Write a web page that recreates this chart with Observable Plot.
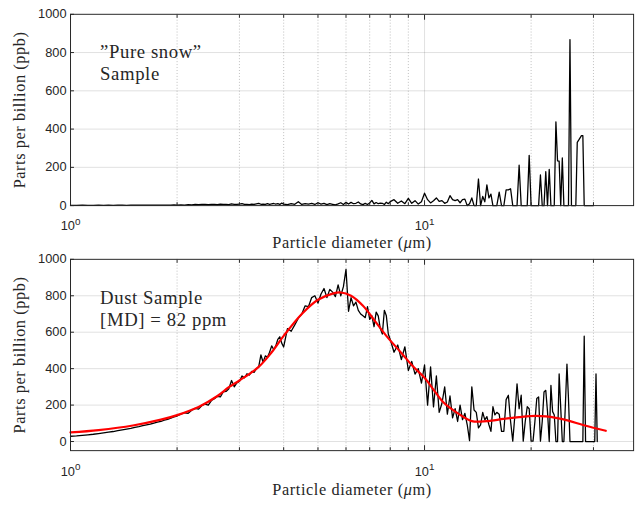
<!DOCTYPE html>
<html><head><meta charset="utf-8">
<script src="https://cdn.jsdelivr.net/npm/d3@7"></script>
<script src="https://cdn.jsdelivr.net/npm/@observablehq/plot@0.6"></script>
<style>
body{margin:0;background:#fff;overflow:hidden;}
#chart{width:641px;height:506px;overflow:hidden;position:relative;background:#fff;}
#chart svg{display:block;}
g[font-family^="Liberation Serif"] text{letter-spacing:0.6px;}
</style></head><body><div id="chart"></div>
<script>
// bin diameters (µm)
const diameters = [
1.00,1.04,1.08,1.12,1.16,1.20,1.24,1.28,1.32,1.36,1.40,1.44,1.48,1.52,1.56,1.60,1.64,1.68,1.72,1.76,1.80,1.84,1.88,1.92,1.96,
2.00,2.05,2.10,2.15,2.20,2.25,2.30,2.35,2.40,2.45,2.50,2.55,2.60,2.65,2.70,2.75,2.80,2.85,2.90,2.95,3.00,3.05,3.10,3.15,3.20,3.25,3.30,3.35,3.40,3.45,3.50,3.55,3.60,3.65,3.70,3.75,3.80,3.85,3.90,3.95,
4.0,4.1,4.2,4.3,4.4,4.5,4.6,4.7,4.8,4.9,5.0,5.1,5.2,5.3,5.4,5.5,5.6,5.7,5.8,5.9,6.0,6.1,6.2,6.3,6.4,6.5,6.6,6.7,6.8,6.9,7.0,7.1,7.2,7.3,7.4,7.5,7.6,7.7,7.8,7.9,
8.0,8.2,8.4,8.6,8.8,9.0,9.2,9.4,9.6,9.8,10.0,10.2,10.4,10.6,10.8,11.0,11.2,11.4,11.6,11.8,12.0,12.2,12.4,12.6,12.8,13.0,13.2,13.4,13.6,13.8,14.0,14.2,14.4,14.6,14.8,15.0,15.2,15.4,15.6,15.8,
16.0,16.25,16.5,16.75,17.0,17.25,17.5,17.75,18.0,18.25,18.5,18.75,19.0,19.25,19.5,19.75,20.0,20.25,20.5,20.75,21.0,21.25,21.5,21.75,22.0,22.25,22.5,22.75,23.0,23.25,23.5,23.75,24.0,24.25,24.5,24.75,25.0,25.25,25.5,25.75,26.0,26.25,26.5,26.75,27.0,27.25,27.5,27.75,28.0,28.25,28.5,28.75,29.0,29.25,29.5,29.75,30.0,30.25,30.5,30.75
];
// "Pure snow" sample (ppb)
const snowPpb = [
1,1,2,1,1,2,1,2,1,2,2,1,2,2,3,2,2,3,2,3,2,3,3,2,4,
3,4,3,5,4,6,5,7,6,5,7,6,5,8,6,7,5,9,7,6,8,10,6,7,5,8,6,9,12,7,8,6,10,7,9,11,8,10,6,13,
8,5,10,7,20,6,10,8,12,6,15,8,12,5,10,7,4,9,15,6,17,8,17,10,12,19,9,5,12,6,14,27,9,16,10,13,12,6,18,10,
21,31,12,24,10,38,12,26,8,20,65,31,14,25,40,22,26,12,19,52,31,26,31,15,31,34,0,10,40,0,0,139,0,48,20,108,40,60,0,0,
0,70,0,0,82,82,88,0,0,0,211,0,0,0,0,263,0,0,0,0,0,160,0,0,177,0,189,0,0,0,438,234,232,0,249,0,0,0,0,868,0,0,0,0,331,342,354,366,366,0,0,0,0,0,0,0,0
];
// Dust sample (ppb)
const dustPpb = [
29,31,34,37,40,44,48,52,55,60,64,68,72,78,82,87,92,95,101,106,110,117,122,128,135,
140,150,158,155,172,182,178,198,205,200,225,235,248,245,272,275,290,335,300,322,330,360,350,372,365,385,380,400,410,475,435,470,462,490,525,505,525,560,575,540,
519,620,605,640,677,700,745,740,790,800,760,810,840,790,835,820,795,860,800,850,945,715,790,745,765,720,700,690,680,740,670,690,630,710,690,620,590,720,690,590,
560,490,530,450,520,390,440,370,400,320,420,200,410,190,360,160,210,300,150,250,130,180,110,200,120,155,92,5,300,173,160,75,92,160,119,137,92,56,191,146,
160,150,56,56,230,254,110,2,146,317,180,254,2,110,191,180,2,2,110,236,245,2,110,272,281,164,0,308,164,146,0,0,371,182,0,0,209,425,236,0,0,0,0,0,0,0,0,0,0,578,0,0,0,0,0,0,0,0,371,0
];
// smooth fit (red)
const fitDiameters = [1.0,1.2,1.5,1.8,2.0,2.3,2.6,2.8,3.0,3.4,3.7,4.0,4.5,5.0,5.5,5.8,6.2,6.7,7.2,7.8,8.6,9.3,10,10.6,11.3,12.3,13.6,15,16.7,18.5,20.6,22,23.5,25.5,27.9,30,32.5];
const fitPpb = [50,63,88,120,145,190,250,298,335,410,490,580,700,778,812,818,800,745,668,580,486,410,350,285,215,160,112,112,124,134,141,138,130,115,92,76,59];

const yTicks = [0,200,400,600,800,1000];
const yTickLabels = ["0","200","400","600","800","1000"];
const xMajorTicks = [1,10];
const xMinorTicks = [2,3,4,5,6,7,8,9,20,30];
const xTickBase = "10";
const xTickExponents = ["0","1"];
const xLabel = "Particle diameter (μm)";
const yLabel = "Parts per billion (ppb)";
const snowNote = "”Pure snow”\nSample";
const dustNote = "Dust Sample\n[MD] = 82 ppm";

const SANS = "Liberation Sans, Arial, Helvetica, sans-serif";
const SERIF = "Liberation Serif, Times New Roman, serif";
const AX = "#262626";
const NS = "http://www.w3.org/2000/svg";

function panel({values, fit, yDomain, height, marginTop, marginBottom, note, noteDy, xLabelDy, xTickPad}) {
  const rows = values.map((v, i) => ({d: diameters[i], v}));
  const marks = [
    Plot.gridY(yTicks.filter(v => v > yDomain[0] && v < yDomain[1]), {stroke: AX, strokeOpacity: 0.14, strokeWidth: 1}),
    Plot.gridX(xMinorTicks, {stroke: AX, strokeOpacity: 0.3, strokeWidth: 1, strokeDasharray: "1,2"}),
    Plot.gridX([10], {stroke: AX, strokeOpacity: 0.14, strokeWidth: 1}),
    Plot.line(rows, {x: "d", y: "v", stroke: "#000", strokeWidth: 1.3}),
  ];
  if (fit) marks.push(Plot.line(fit, {x: "d", y: "v", stroke: "#ff0000", strokeWidth: 2.2, curve: "catmull-rom"}));
  marks.push(
    Plot.frame({stroke: AX, strokeWidth: 1}),
    // inward ticks
    Plot.axisY(yTicks, {anchor: "left", tickSize: -4, tickFormat: () => "", label: null, stroke: AX}),
    Plot.axisX(xMajorTicks, {anchor: "bottom", tickSize: -5, tickFormat: () => "", label: null, stroke: AX}),
    Plot.axisX(xMinorTicks, {anchor: "bottom", tickSize: -3, tickFormat: () => "", label: null, stroke: AX}),
    Plot.axisX(xMajorTicks, {anchor: "top", tickSize: -5, tickFormat: () => "", label: null, stroke: AX}),
    Plot.axisX(xMinorTicks, {anchor: "top", tickSize: -3, tickFormat: () => "", label: null, stroke: AX}),
    // tick labels
    Plot.axisY(yTicks, {anchor: "left", tickSize: 0, tickPadding: 4, label: null, fontSize: 13, fontFamily: SANS, fill: AX,
      tickFormat: d => yTickLabels[yTicks.indexOf(d)]}),
    Plot.axisX(xMajorTicks, {anchor: "bottom", tickSize: 0, tickPadding: xTickPad, label: null, fontSize: 13, fontFamily: SANS, fill: AX,
      tickFormat: d => "E" + xTickExponents[xMajorTicks.indexOf(d)]}),
    // axis titles
    Plot.text([xLabel], {frameAnchor: "bottom", dy: xLabelDy, text: d => d, fontFamily: SERIF, fontSize: 16.5, fill: AX, textAnchor: "middle", lineAnchor: "middle"}),
    Plot.text([yLabel], {frameAnchor: "left", dx: -51, rotate: -90, text: d => d, fontFamily: SERIF, fontSize: 16.5, fill: AX, textAnchor: "middle", lineAnchor: "middle"}),
    Plot.text([note], {frameAnchor: "top-left", dx: 30, dy: noteDy, text: d => d, textAnchor: "start", lineAnchor: "top", lineHeight: 1.17, fontFamily: SERIF, fontSize: 19, fill: AX})
  );
  const svg = Plot.plot({
    width: 650, height, marginLeft: 71, marginRight: 8, marginTop, marginBottom,
    x: {type: "log", domain: [1, 38.95]},
    y: {domain: yDomain},
    style: {background: "white", overflow: "visible"},
    marks
  });
  for (const t of svg.querySelectorAll("text")) {
    const s = t.textContent;
    if (s === xLabel) {
      t.textContent = "";
      t.append("Particle diameter (");
      const ts = document.createElementNS(NS, "tspan");
      ts.setAttribute("font-style", "italic");
      ts.textContent = "μ";
      t.append(ts);
      t.append("m)");
    } else if (/^E\d$/.test(s)) {
      t.textContent = "";
      t.append(xTickBase);
      const ts = document.createElementNS(NS, "tspan");
      ts.setAttribute("dy", "-6");
      ts.setAttribute("font-size", "10");
      ts.textContent = s.slice(1);
      t.append(ts);
    }
  }
  return svg;
}

const fitRows = fitDiameters.map((d, i) => ({d, v: fitPpb[i]}));
const chart = document.getElementById("chart");
chart.append(panel({values: snowPpb, fit: null, yDomain: [0, 1000], height: 250, marginTop: 14, marginBottom: 42, note: snowNote, noteDy: 29, xLabelDy: 38, xTickPad: 16}));
chart.append(panel({values: dustPpb, fit: fitRows, yDomain: [-50, 1000], height: 256, marginTop: 12, marginBottom: 50, note: dustNote, noteDy: 30, xLabelDy: 40, xTickPad: 16}));
</script></body></html>
